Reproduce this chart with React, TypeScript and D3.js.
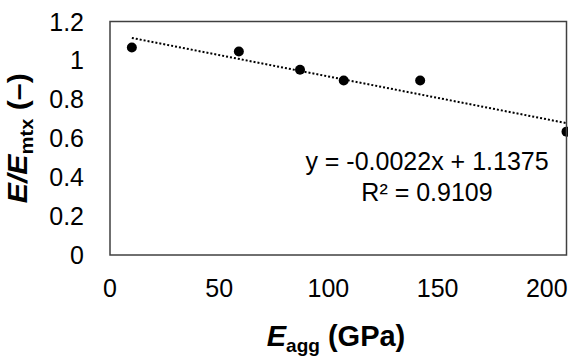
import React, { useEffect, useRef } from 'react';
import * as d3 from 'd3';

// modulus of the aggregate (GPa) vs normalised modulus
const eAgg = [10, 59, 87, 107, 142, 209];
const eRatio = [1.066, 1.046, 0.952, 0.897, 0.897, 0.634];
const xTicks = [0, 50, 100, 150, 200];
const yTicks = [0, 0.2, 0.4, 0.6, 0.8, 1, 1.2];
const slope = -0.0022;
const intercept = 1.1375;
const eqLabel = 'y = -0.0022x + 1.1375';
const r2Label = 'R² = 0.9109';

export default function App() {
    const svgRef = useRef<SVGSVGElement>(null);

    useEffect(() => {
        if (!svgRef.current) return;
        const svg = d3.select(svgRef.current);
        svg.selectAll('*').remove();

        const width = 568;
        const height = 358;
        const margin = { top: 21.5, right: 1.5, bottom: 103, left: 110 };
        const font = 'Liberation Sans, Arial, sans-serif';
        const xMax = 209;

        const x = d3.scaleLinear().domain([0, xMax]).range([margin.left, width - margin.right]);
        const y = d3.scaleLinear().domain([0, 1.2]).range([height - margin.bottom, margin.top]);

        svg.attr('width', width).attr('height', height);
        svg.append('rect').attr('width', width).attr('height', height).attr('fill', '#fff');

        // tick labels
        svg.append('g').selectAll('text')
            .data(yTicks)
            .enter()
            .append('text')
            .attr('x', 84)
            .attr('y', d => y(d))
            .attr('dy', '0.36em')
            .attr('text-anchor', 'end')
            .style('font', `25px ${font}`)
            .attr('fill', '#000')
            .text(d => d3.format('~g')(d));

        svg.append('g').selectAll('text')
            .data(xTicks)
            .enter()
            .append('text')
            .attr('x', d => x(d))
            .attr('y', 297)
            .attr('text-anchor', 'middle')
            .style('font', `25px ${font}`)
            .attr('fill', '#000')
            .text(d => d);

        // trendline
        const [x0, x1] = d3.extent(eAgg) as [number, number];
        svg.append('line')
            .attr('x1', x(x0))
            .attr('y1', y(slope * x0 + intercept))
            .attr('x2', x(x1))
            .attr('y2', y(slope * x1 + intercept))
            .attr('stroke', '#000')
            .attr('stroke-width', 2)
            .attr('stroke-dasharray', '2 2');

        svg.append('g').selectAll('circle')
            .data(eAgg)
            .enter()
            .append('circle')
            .attr('cx', d => x(d))
            .attr('cy', (d, i) => y(eRatio[i]))
            .attr('r', 5)
            .attr('fill', '#000');

        // plot frame
        svg.append('rect')
            .attr('x', x(0))
            .attr('y', y(1.2))
            .attr('width', x(xMax) - x(0))
            .attr('height', y(0) - y(1.2))
            .attr('fill', 'none')
            .attr('stroke', '#404040')
            .attr('stroke-width', 1.5);

        // regression text
        const eq = svg.append('text')
            .attr('text-anchor', 'middle')
            .style('font', `25px ${font}`);
        eq.append('tspan').attr('x', 427).attr('y', 170).text(eqLabel);
        eq.append('tspan').attr('x', 427).attr('y', 201).text(r2Label);

        // axis titles
        const xt = svg.append('text')
            .attr('x', 336)
            .attr('y', 346)
            .attr('text-anchor', 'middle')
            .style('font', `bold 29px ${font}`);
        xt.append('tspan').style('font-style', 'italic').text('E');
        xt.append('tspan').attr('dy', 6).style('font-size', '19px').text('agg');
        xt.append('tspan').attr('dy', -6).text(' (GPa)');

        const yt = svg.append('text')
            .attr('transform', `translate(27,${(y(0) + y(1.2)) / 2}) rotate(-90) scale(1.12,1)`)
            .attr('text-anchor', 'middle')
            .style('font', `bold 27px ${font}`);
        yt.append('tspan').style('font-style', 'italic').text('E/E');
        yt.append('tspan').attr('dy', 6).style('font-size', '18px').text('mtx');
        yt.append('tspan').attr('dy', -6).text(' (\u2013)');
    }, []);

    return <svg ref={svgRef} style={{ position: 'absolute', left: 0, top: 0 }} />;
}
